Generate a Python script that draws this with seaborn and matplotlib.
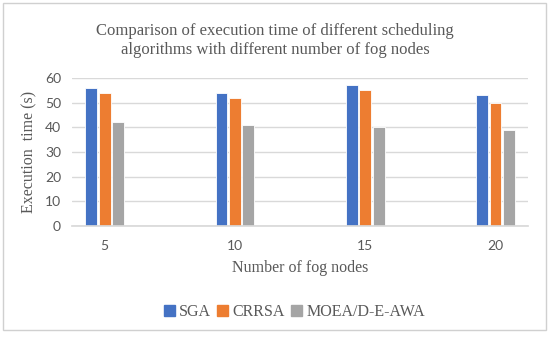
import pandas as pd
import matplotlib.pyplot as plt
import seaborn as sns
from matplotlib.patches import Rectangle

# data
fog_nodes = ["5", "10", "15", "20"]
sga = [56, 54, 57, 53]
crrsa = [54, 52, 55, 50]
moea = [42, 41, 40, 39]
algorithms = ["SGA", "CRRSA", "MOEA/D-E-AWA"]
colors = ["#4472C4", "#ED7D31", "#A5A5A5"]

df = pd.DataFrame({
    "nodes": fog_nodes * 3,
    "time": sga + crrsa + moea,
    "alg": [a for a in algorithms for _ in fog_nodes],
})

sns.set_theme(style="white")
serif = ["Liberation Serif", "DejaVu Serif"]
sans = ["Lato", "DejaVu Sans"]
text_grey = "#595959"

fig = plt.figure(figsize=(5.5, 3.38), dpi=100)
ax = fig.add_axes([0.131, 0.331, 0.829, 0.438])

# saturation=1 so the office colours are not muted
sns.barplot(data=df, x="nodes", y="time", hue="alg", order=fog_nodes,
            hue_order=algorithms, palette=colors, saturation=1,
            width=0.31, gap=0.12, edgecolor="white", linewidth=0.6,
            ax=ax, legend=True)

ax.set_xlim(-0.25, 3.25)
ax.set_ylim(0, 60)
ax.set_yticks(range(0, 61, 10))
ax.yaxis.grid(True, color="#d9d9d9", linewidth=1)
ax.set_axisbelow(True)
for side in ["left", "right", "top"]:
    ax.spines[side].set_visible(False)
ax.spines["bottom"].set_color("#d9d9d9")
ax.tick_params(length=0, labelsize=10, labelcolor=text_grey)
ax.tick_params(axis="x", pad=10)
ax.tick_params(axis="y", pad=8)
for lab in ax.get_xticklabels() + ax.get_yticklabels():
    lab.set_family(sans)

ax.set_xlabel("Number of fog nodes", family=serif, fontsize=11.5,
              color=text_grey, labelpad=6)
ax.set_ylabel("Execution  time (s)", family=serif, fontsize=11.5,
              color=text_grey, labelpad=5)

fig.text(0.5, 0.88, "Comparison of execution time of different scheduling\n"
         "algorithms with different number of fog nodes",
         ha="center", va="center", family=serif, fontsize=12,
         color=text_grey, linespacing=1.3)

ax.legend_.remove()
handles = [Rectangle((0, 0), 1, 1, color=c) for c in colors]
fig.legend(handles, algorithms, loc="center", bbox_to_anchor=(0.535, 0.077),
           ncol=3, frameon=False, handlelength=0.7, handleheight=0.7,
           handletextpad=0.25, columnspacing=0.4,
           prop={"family": serif, "size": 11.5}, labelcolor=text_grey)

fig.patches.append(Rectangle((0.0055, 0.0237), 0.987, 0.967, transform=fig.transFigure,
                             fill=False, edgecolor="#d0d0d0", linewidth=1))

fig.savefig("out.png", dpi=100)
